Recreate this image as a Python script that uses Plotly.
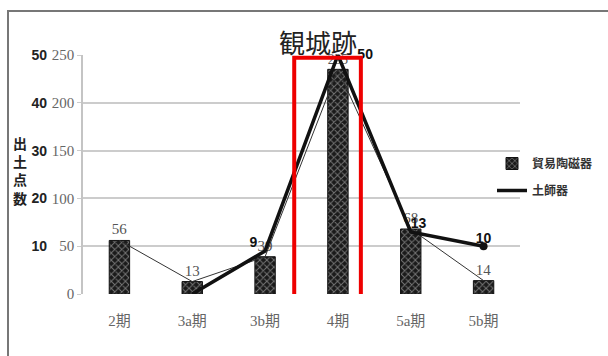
import plotly.graph_objects as go

categories = ["2期", "3a期", "3b期", "4期", "5a期", "5b期"]
boeki = [56, 13, 39, 235, 68, 14]            # 貿易陶磁器 (0-250 axis)
hajiki = [None, 0, 9, 50, 13, 10]            # 土師器 (0-50 axis)
hajiki_labels = ["", "", "9\u00a0\u00a0", "\u00a0\u00a0\u00a0\u00a0\u00a050", "13", "10"]
hajiki_pos = ["top center", "top center", "top left", "middle right", "top right", "top center"]
y1_ticks = [0, 50, 100, 150, 200, 250]
y2_ticks = [10, 20, 30, 40, 50]

L, R, T, B = 20, 88, 55, 62
W, H = 608, 356
pw = W - L - R
ph = H - T - B

def px_x(p):
    return (p - L) / pw

def px_y(p):
    return (H - B - p) / ph

serif = "Liberation Serif, Noto Sans CJK JP, serif"
sans = "Liberation Sans, Noto Sans CJK JP, sans-serif"

fig = go.Figure()

fig.add_trace(go.Bar(
    x=categories, y=boeki, name="貿易陶磁器",
    width=0.28,
    marker=dict(color="#1a1a1a", line=dict(color="#111", width=1),
                pattern=dict(shape="x", fgcolor="#d0d0d0", bgcolor="#1a1a1a", size=5, solidity=0.35)),
    text=[str(v) for v in boeki], textposition="outside",
    textfont=dict(family=serif, size=15, color="#555"),
    cliponaxis=False, legendgroup="a", yaxis="y",
))

fig.add_trace(go.Scatter(
    x=categories, y=boeki, mode="lines", line=dict(color="#333", width=1),
    showlegend=False, hoverinfo="skip", yaxis="y",
))

fig.add_trace(go.Scatter(
    x=categories, y=hajiki, name="土師器", mode="lines+text",
    line=dict(color="#111", width=3.5),
    text=hajiki_labels, textposition=hajiki_pos,
    textfont=dict(family=sans, size=14, color="#111", weight="bold"),
    cliponaxis=False, legendgroup="b", yaxis="y2",
))

fig.add_trace(go.Scatter(
    x=categories[-1:], y=hajiki[-1:], mode="markers",
    marker=dict(color="#111", size=8), showlegend=False, hoverinfo="skip",
    cliponaxis=False, yaxis="y2",
))

fig.update_layout(
    width=W, height=H, margin=dict(l=L, r=R, t=T, b=B, autoexpand=False),
    paper_bgcolor="white", plot_bgcolor="white",
    xaxis=dict(domain=[px_x(83), 1], type="category", showgrid=False, showline=False,
               ticks="", ticklabelstandoff=16, automargin=False,
               tickfont=dict(family=serif, size=15, color="#666")),
    yaxis=dict(range=[0, 250], tickvals=y1_ticks, showgrid=True, gridcolor="#cccccc", gridwidth=1.5,
               showline=True, linecolor="#c4c4c4", linewidth=1.5, automargin=False,
               ticks="outside", ticklen=4, tickcolor="#cccccc",
               tickfont=dict(family=serif, size=15, color="#666"), zeroline=False),
    yaxis2=dict(range=[0, 50], tickvals=y2_ticks, overlaying="y", anchor="free",
                position=px_x(47), side="left", showgrid=False, showline=False, ticks="",
                zeroline=False, automargin=False,
                tickfont=dict(family=sans, size=14, color="#222", weight="bold")),
    legend=dict(x=px_x(492), y=px_y(149), xanchor="left", yanchor="top",
                font=dict(family=sans, size=12, color="#333", weight="bold"),
                tracegroupgap=8, traceorder="grouped", bgcolor="rgba(0,0,0,0)"),
    bargap=0.7,
    showlegend=True,
)

fig.add_annotation(text="観城跡", x=px_x(318), y=px_y(42), xref="paper", yref="paper",
                   xanchor="center", yanchor="middle",
                   showarrow=False, font=dict(family="Noto Sans CJK JP", size=26, color="#222"))
fig.add_annotation(text="<b>出<br>土<br>点<br>数</b>", x=px_x(20), y=px_y(170), xref="paper", yref="paper",
                   xanchor="center", yanchor="middle",
                   showarrow=False, font=dict(family="Noto Sans CJK JP", size=14, color="#222"))

# red highlight box
fig.add_shape(type="rect", xref="x", yref="y", x0=2.40, x1=3.315, y0=-2, y1=247,
              line=dict(color="#ee0000", width=4), fillcolor="rgba(0,0,0,0)")
# outer frame
fig.add_shape(type="rect", xref="paper", yref="paper", x0=px_x(8), x1=px_x(620),
              y0=px_y(370), y1=px_y(11), line=dict(color="#777", width=2), layer="below")

fig.write_html("out.html")
